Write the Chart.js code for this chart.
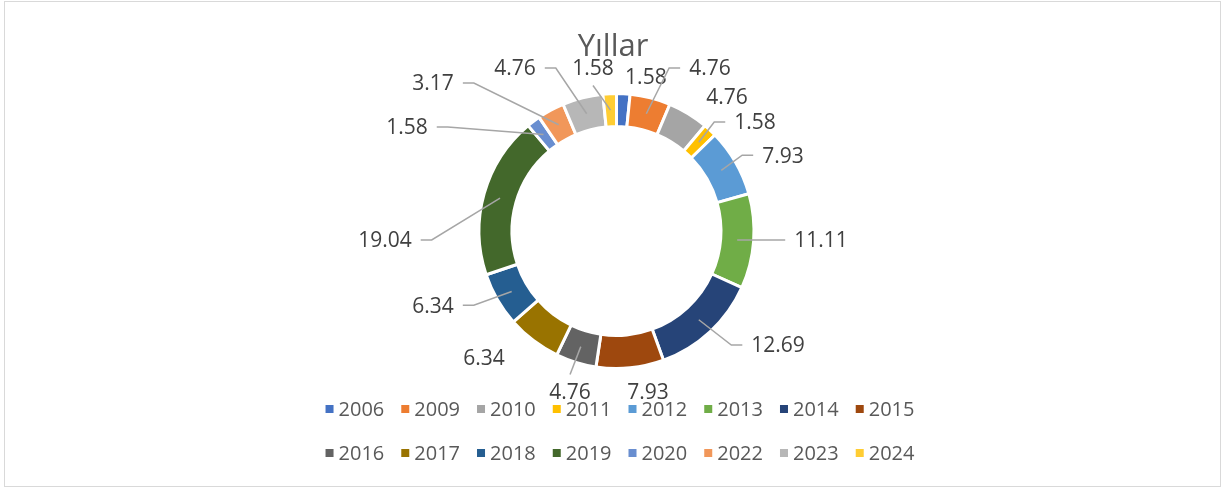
<!DOCTYPE html>
<html>
<head>
<meta charset="utf-8">
<script src="https://cdn.jsdelivr.net/npm/chart.js@4.4.0/dist/chart.umd.min.js"></script>
<style>
  html, body { margin: 0; padding: 0; background: #fff; }
  #wrap { width: 1223px; height: 490px; }
</style>
</head>
<body>
<div id="wrap"><canvas id="chart" width="1223" height="490"></canvas></div>
<script>
const chartTitle = 'Yıllar';
const years = ['2006', '2009', '2010', '2011', '2012', '2013', '2014', '2015',
               '2016', '2017', '2018', '2019', '2020', '2022', '2023', '2024'];
const shares = [1.58, 4.76, 4.76, 1.58, 7.93, 11.11, 12.69, 7.93,
                4.76, 6.34, 6.34, 19.04, 1.58, 3.17, 4.76, 1.58];
const sliceColors = ['#4472C4', '#ED7D31', '#A5A5A5', '#FFC000', '#5B9BD5', '#70AD47', '#264478', '#9E480E',
                     '#636363', '#997300', '#255E91', '#43682B', '#698ED0', '#F1975A', '#B7B7B7', '#FFCD33'];

// where the data labels sit: [degrees clockwise from top, distance in outer radii]
const labelSpots = [
    [10.8, 1.153], [29.8, 1.382], [39.5, 1.277], [51.8, 1.296],
    [65.5, 1.345], [92.5, 1.505], [125.2, 1.454], [168.9, 1.206],
    [196.1, 1.232], [226.2, 1.349], [248.0, 1.455], [267.8, 1.704],
    [296.4, 1.72], [308.9, 1.733], [328.1, 1.412], [351.8, 1.211]
];
const hasLeader = [false, true, false, true, true, true, true, false,
                   true, false, true, true, true, true, true, true];

const FONT = '"Open Sans", "Liberation Sans", sans-serif';

// frame, title, data labels with leader lines, legend
const decor = {
    id: 'decor',
    beforeDraw(chart) {
        const ctx = chart.ctx;
        ctx.save();
        ctx.fillStyle = '#ffffff';
        ctx.fillRect(0, 0, chart.width, chart.height);
        ctx.strokeStyle = '#d9d9d9';
        ctx.lineWidth = 1;
        ctx.strokeRect(4.5, 1.5, 1216, 485);
        ctx.restore();
    },
    afterDraw(chart) {
        const ctx = chart.ctx;
        const meta = chart.getDatasetMeta(0);
        const first = meta.data[0];
        const cx = first.x, cy = first.y;
        const R = first.outerRadius - 1.5;
        const r = first.innerRadius + 1.5;
        ctx.save();

        // title
        ctx.font = '31px ' + FONT;
        ctx.fillStyle = '#595959';
        ctx.textAlign = 'center';
        ctx.textBaseline = 'alphabetic';
        ctx.fillText(chartTitle, 613, 56);

        // data labels
        const size = 21;
        ctx.font = size + 'px ' + FONT;
        const digitH = 0.714 * size;
        meta.data.forEach((arc, i) => {
            const mid = (arc.startAngle + arc.endAngle) / 2;
            const a = labelSpots[i][0] * Math.PI / 180 - Math.PI / 2;
            const lx = cx + Math.cos(a) * labelSpots[i][1] * R;
            const ly = cy + Math.sin(a) * labelSpots[i][1] * R;
            const text = shares[i].toFixed(2);
            const w = ctx.measureText(text).width;
            const left = lx - w / 2, right = lx + w / 2;
            const top = ly - digitH / 2, bottom = ly + digitH / 2;

            if (hasLeader[i]) {
                const sx = cx + Math.cos(mid) * (R + r) / 2;
                const sy = cy + Math.sin(mid) * (R + r) / 2;
                const pts = [[sx, sy]];
                if (sx < left - 4) {
                    pts.push([left - 20, ly], [left - 9, ly]);
                } else if (sx > right + 4) {
                    pts.push([right + 20, ly], [right + 9, ly]);
                } else if (sy < top) {
                    pts.push([lx, top - 10]);
                } else {
                    pts.push([lx, bottom + 10]);
                }
                ctx.beginPath();
                ctx.moveTo(pts[0][0], pts[0][1]);
                for (let k = 1; k < pts.length; k++) ctx.lineTo(pts[k][0], pts[k][1]);
                ctx.strokeStyle = '#a6a6a6';
                ctx.lineWidth = 1.5;
                ctx.stroke();
            }
            ctx.fillStyle = '#404040';
            ctx.textAlign = 'center';
            ctx.fillText(text, lx, ly + digitH / 2);
        });

        // legend, two rows of eight
        const lsize = 20;
        ctx.font = lsize + 'px ' + FONT;
        ctx.textAlign = 'left';
        const rowsY = [409, 453];
        const box = 8, gap = 5, spacing = 17, perRow = 8;
        for (let row = 0; row < 2; row++) {
            const items = years.slice(row * perRow, row * perRow + perRow);
            const widths = items.map(t => box + gap + ctx.measureText(t).width);
            const total = widths.reduce((s, v) => s + v, 0) + spacing * (items.length - 1);
            let x = 620 - total / 2;
            const y = rowsY[row];
            items.forEach((t, k) => {
                const idx = row * perRow + k;
                ctx.fillStyle = sliceColors[idx];
                ctx.fillRect(x, y - box / 2, box, box);
                ctx.fillStyle = '#595959';
                ctx.fillText(t, x + box + gap, y + 0.357 * lsize);
                x += widths[k] + spacing;
            });
        }
        ctx.restore();
    }
};

new Chart(document.getElementById('chart'), {
    type: 'doughnut',
    data: {
        labels: years,
        datasets: [{
            data: shares,
            backgroundColor: sliceColors,
            borderColor: '#ffffff',
            borderWidth: 3
        }]
    },
    options: {
        responsive: false,
        animation: false,
        devicePixelRatio: 1,
        cutout: '76%',
        layout: { padding: { top: 92, bottom: 120, left: 10, right: 0 } },
        plugins: {
            legend: { display: false },
            title: { display: false },
            tooltip: { enabled: false }
        }
    },
    plugins: [decor]
});
</script>
</body>
</html>
